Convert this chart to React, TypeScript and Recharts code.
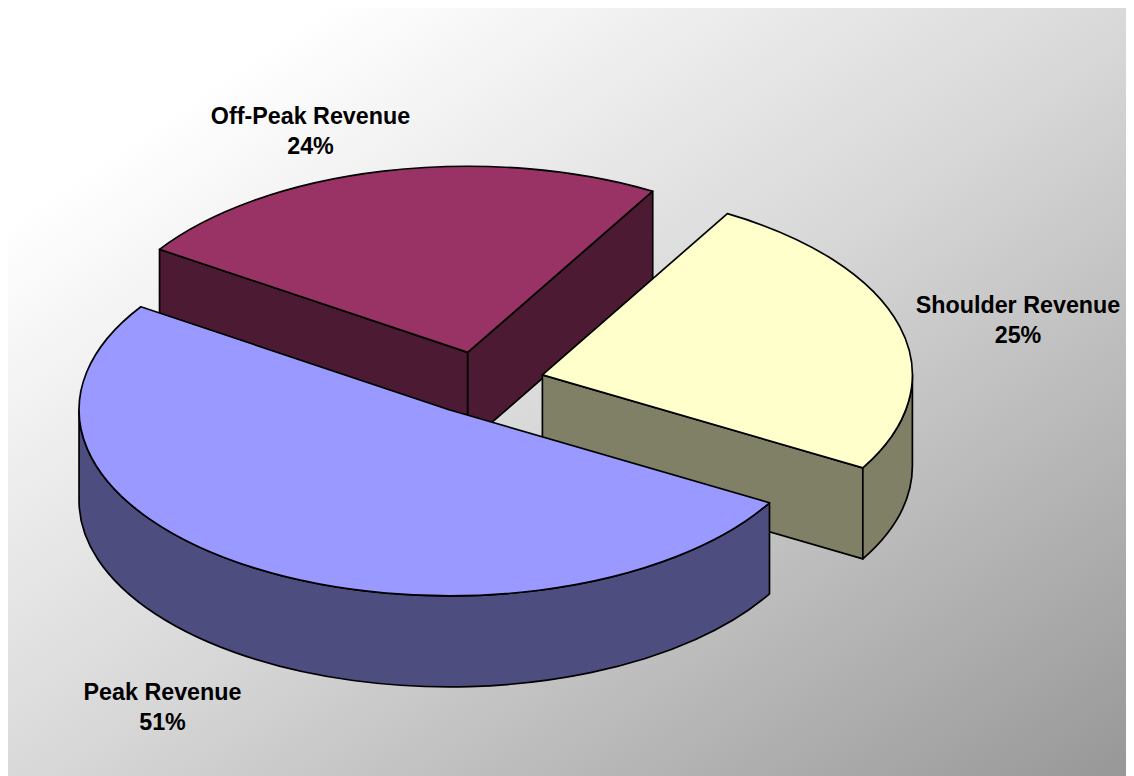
import { Pie, PieChart } from "recharts";

const categories = ["Off-Peak Revenue", "Shoulder Revenue", "Peak Revenue"];
const shares = [24, 25, 51];
const topColors = ["#993366", "#FFFFCC", "#9999FF"];
const sideColors = ["#4D1A33", "#808066", "#4D4D80"];

const data = categories.map((name, i) => ({
  name,
  value: shares[i],
  fill: topColors[i],
  side: sideColors[i],
}));

// label centre x and first baseline, in chart coordinates
const labelAnchors: Record<string, [number, number]> = {
  "Off-Peak Revenue": [302.5, 116],
  "Shoulder Revenue": [1010, 305],
  "Peak Revenue": [154.5, 692],
};

const WIDTH = 1126;
const HEIGHT = 768;
const TILT = 0.503;
const DEPTH = 91;
const EXPLODE = 0.169;
const START = 146.4;

const rad = (deg: number) => (deg * Math.PI) / 180;

// flat pie angle -> point on the tilted disc
const project = (cx: number, cy: number, r: number, deg: number) => [
  cx + r * Math.cos(rad(deg)),
  cy - r * TILT * Math.sin(rad(deg)),
];

const Slice3D = (props: any) => {
  const { cx, cy, outerRadius: r, startAngle, endAngle, midAngle, fill, payload } = props;
  const mid = midAngle ?? (startAngle + endAngle) / 2;
  const [ox, oy] = project(cx, cy, r * EXPLODE, mid);
  const [sx, sy] = project(ox, oy, r, startAngle);
  const [ex, ey] = project(ox, oy, r, endAngle);
  const ry = r * TILT;
  const large = startAngle - endAngle > 180 ? 1 : 0;
  const side = payload?.side ?? props.side;
  const stroke = { stroke: "#000", strokeWidth: 1.7, strokeLinejoin: "round" as const };

  const face = (x: number, y: number) =>
    `M${ox},${oy} L${x},${y} L${x},${y + DEPTH} L${ox},${oy + DEPTH} Z`;

  // outer wall only shows on the front half of the disc
  const wallFrom = Math.min(startAngle, 0);
  const wallTo = Math.max(endAngle, -180);
  let wall = null;
  if (wallFrom > wallTo) {
    const [ax, ay] = project(ox, oy, r, wallFrom);
    const [bx, by] = project(ox, oy, r, wallTo);
    wall =
      `M${ax},${ay} A${r},${ry} 0 0 1 ${bx},${by} L${bx},${by + DEPTH} ` +
      `A${r},${ry} 0 0 0 ${ax},${ay + DEPTH} Z`;
  }

  return (
    <g>
      {Math.sin(rad(startAngle + 90)) < 0 && <path d={face(sx, sy)} fill={side} {...stroke} />}
      {Math.sin(rad(endAngle - 90)) < 0 && <path d={face(ex, ey)} fill={side} {...stroke} />}
      {wall && <path d={wall} fill={side} {...stroke} />}
      <path
        d={`M${ox},${oy} L${sx},${sy} A${r},${ry} 0 ${large} 1 ${ex},${ey} Z`}
        fill={fill}
        {...stroke}
      />
    </g>
  );
};

const renderLabel = (props: any) => {
  const name = props.name ?? props.payload?.name;
  const [x, y] = labelAnchors[name];
  const style = { fontFamily: "Liberation Sans, Arial, sans-serif", fontSize: 23.3, fontWeight: 700 };
  return (
    <text x={x} y={y} textAnchor="middle" fill="#000" style={style}>
      <tspan x={x}>{name}</tspan>
      <tspan x={x} dy={30}>{`${props.value}%`}</tspan>
    </text>
  );
};

export default function App() {
  return (
    <div
      style={{
        width: WIDTH,
        height: HEIGHT,
        background: "linear-gradient(to bottom right, #ffffff 0%, #ffffff 14%, #d8d8d8 51%, #979797 100%)",
      }}
    >
      <PieChart width={WIDTH} height={HEIGHT}>
        <Pie
          data={data}
          dataKey="value"
          nameKey="name"
          cx={469}
          cy={370}
          outerRadius={370}
          startAngle={START}
          endAngle={START - 360}
          shape={Slice3D}
          label={renderLabel}
          labelLine={false}
          stroke="none"
          isAnimationActive={false}
        />
      </PieChart>
    </div>
  );
}
